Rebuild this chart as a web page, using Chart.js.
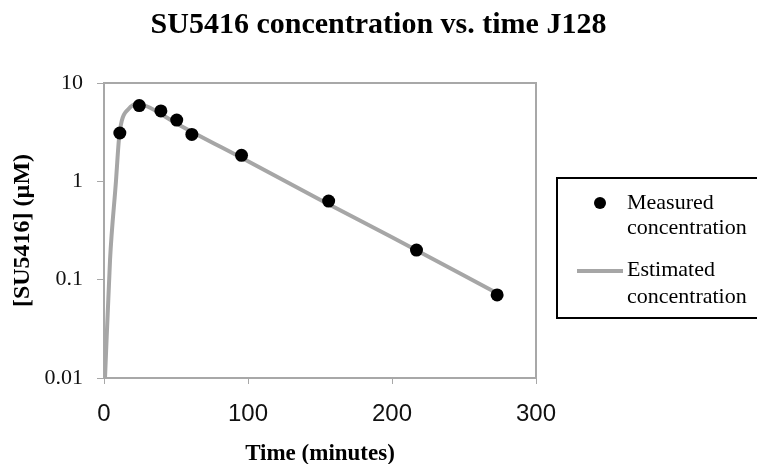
<!DOCTYPE html>
<html>
<head>
<meta charset="utf-8">
<script src="https://cdn.jsdelivr.net/npm/chart.js@4"></script>
<style>
  html, body { margin: 0; padding: 0; background: #fff; }
  #wrap { width: 757px; height: 464px; }
</style>
</head>
<body>
<div id="wrap"><canvas id="chart" width="757" height="464"></canvas></div>
<script>
// measured points (minutes, µM)
const measuredTime = [11, 24.5, 39.5, 50.5, 61, 95.5, 156, 217, 273];
const measuredConc = [3.1, 5.9, 5.2, 4.2, 3.0, 1.84, 0.63, 0.2, 0.07];

// estimated curve
const estTime = [0.7, 4.2, 8.3, 10.4, 12.3, 16.9, 22.7, 29.6, 50, 100, 150, 200, 272];
const estConc = [0.01, 0.16, 1.0, 2.7, 4.1, 5.4, 6.1, 5.8, 3.9, 1.6, 0.65, 0.27, 0.074];

const yTicks = [0.01, 0.1, 1, 10];
const xTicks = [0, 100, 200, 300];

const titleText = 'SU5416 concentration vs. time J128';
const legendLabels = [['Measured', 'concentration'], ['Estimated', 'concentration']];

const axisGray = '#a8a8a8';
const lineGray = '#a6a6a6';

const serif = '"Liberation Serif", "Times New Roman", serif';
const sans = '"Liberation Sans", Arial, sans-serif';

const measured = measuredTime.map((t, i) => ({ x: t, y: measuredConc[i] }));
const estimated = estTime.map((t, i) => ({ x: t, y: estConc[i] }));

const decor = {
  id: 'decor',
  beforeDraw(chart) {
    const c = chart.ctx;
    c.save();
    c.fillStyle = '#fff';
    c.fillRect(0, 0, chart.width, chart.height);
    c.restore();
  },
  afterDraw(chart) {
    const c = chart.ctx;
    const a = chart.chartArea;
    c.save();
    // top and right frame of the plot
    c.strokeStyle = axisGray;
    c.lineWidth = 2;
    c.beginPath();
    c.moveTo(a.left, a.top);
    c.lineTo(a.right, a.top);
    c.lineTo(a.right, a.bottom);
    c.stroke();

    // title
    c.fillStyle = '#000';
    c.font = 'bold 30px ' + serif;
    c.textAlign = 'center';
    c.textBaseline = 'alphabetic';
    c.fillText(titleText, chart.width / 2, 33);

    // legend box
    c.strokeStyle = '#000';
    c.lineWidth = 2;
    c.strokeRect(557, 178, 220, 140);
    c.font = '22px ' + serif;
    c.textAlign = 'left';
    c.textBaseline = 'middle';

    const ds0 = chart.data.datasets[0];
    c.fillStyle = ds0.backgroundColor;
    c.beginPath();
    c.arc(600, 203, 6, 0, Math.PI * 2);
    c.fill();
    c.fillStyle = '#000';
    c.fillText(legendLabels[0][0], 627, 203);
    c.fillText(legendLabels[0][1], 627, 228);

    const ds1 = chart.data.datasets[1];
    c.strokeStyle = ds1.borderColor;
    c.lineWidth = ds1.borderWidth;
    c.beginPath();
    c.moveTo(577, 271);
    c.lineTo(623, 271);
    c.stroke();
    c.fillStyle = '#000';
    c.fillText(legendLabels[1][0], 627, 270);
    c.fillText(legendLabels[1][1], 627, 297);
    c.restore();
  }
};

new Chart(document.getElementById('chart'), {
  type: 'scatter',
  data: {
    datasets: [
      {
        label: 'Measured concentration',
        data: measured,
        showLine: false,
        pointRadius: 6.5,
        pointHoverRadius: 6.5,
        backgroundColor: '#000',
        borderColor: '#000',
        borderWidth: 0
      },
      {
        label: 'Estimated concentration',
        data: estimated,
        showLine: true,
        pointRadius: 0,
        borderColor: lineGray,
        backgroundColor: lineGray,
        borderWidth: 4,
        cubicInterpolationMode: 'monotone'
      }
    ]
  },
  options: {
    responsive: false,
    animation: false,
    events: [],
    layout: { padding: { top: 83, right: 221, bottom: 0, left: 0 } },
    plugins: {
      legend: { display: false },
      title: { display: false },
      tooltip: { enabled: false }
    },
    scales: {
      x: {
        type: 'linear',
        min: 0,
        max: 300,
        afterBuildTicks(scale) { scale.ticks = xTicks.map(v => ({ value: v })); },
        afterFit(scale) { scale.height = 86; },
        grid: { display: true, drawOnChartArea: false, drawTicks: true, tickLength: 6, color: axisGray, lineWidth: 1 },
        border: { display: true, color: axisGray, width: 2 },
        ticks: { color: '#111', font: { family: sans, size: 24 }, padding: 16, maxRotation: 0 },
        title: { display: true, text: 'Time (minutes)', color: '#000', font: { family: serif, size: 23, weight: 'bold', lineHeight: 0.9 }, padding: { top: 0, bottom: 0 } }
      },
      y: {
        type: 'logarithmic',
        min: 0.01,
        max: 10,
        afterBuildTicks(scale) { scale.ticks = yTicks.map(v => ({ value: v, major: true })); },
        afterFit(scale) { scale.width = 104; },
        grid: { display: true, drawOnChartArea: false, drawTicks: true, tickLength: 7, color: axisGray, lineWidth: 1 },
        border: { display: true, color: axisGray, width: 2 },
        ticks: {
          color: '#111',
          font: { family: serif, size: 22 },
          padding: 14,
          callback: v => String(v)
        },
        title: { display: true, text: '[SU5416] (µM)', color: '#000', font: { family: serif, size: 24, weight: 'bold' }, padding: { top: 8, bottom: 0 } }
      }
    }
  },
  plugins: [decor]
});
</script>
</body>
</html>
